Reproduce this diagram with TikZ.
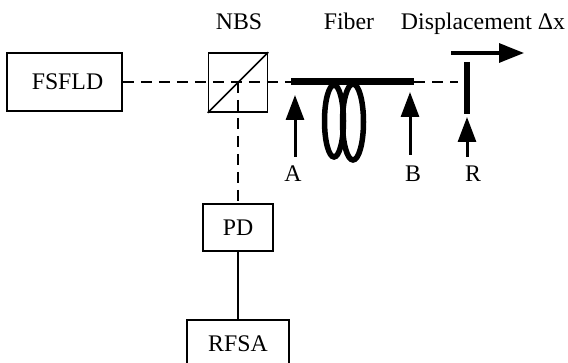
\documentclass[tikz,border=0pt]{standalone}
\usepackage{fontspec}
\setmainfont{Liberation Serif}
\usepackage{tikz}
\usetikzlibrary{arrows.meta}

\begin{document}
\begin{tikzpicture}[x=1pt, y=-1pt,
  every node/.style={font=\fontsize{23.8}{24}\selectfont, inner sep=0pt},
  unit/.style={draw, line width=1.6pt},
  tag/.style={anchor=base},
  beam/.style={line width=1.5pt, dash pattern=on 11pt off 7pt},
  fiber/.style={line width=7pt},
  coil/.style={line width=5.5pt},
  probe/.style={line width=3pt, -{Triangle[length=25pt, width=18pt]}},
  move/.style={line width=3.2pt, -{Triangle[length=25pt, width=19pt]}}
]
  \useasboundingbox (0,0) rectangle (568,363);
  % boxes
  \node[unit, minimum width=115pt, minimum height=58pt] (fsfld) at (64.5,82) {\hspace{6pt}FSFLD};
  \node[unit, minimum width=59pt, minimum height=59pt] (nbs) at (238,82.5) {};
  \node[unit, minimum width=70pt, minimum height=47pt] (pd) at (238,227.5) {PD};
  \node[unit, minimum width=102pt, minimum height=48pt] (rfsa) at (238,344) {RFSA};
  % labels
  \node[tag] (nbslabel) at (239,30) {NBS};
  \node[tag] (fiberlabel) at (349,30) {Fiber};
  \node[tag] (displabel) at (483,30) {Displacement Δx};
  \node[tag] (alabel) at (293,182) {A};
  \node[tag] (blabel) at (413,182) {B};
  \node[tag] (rlabel) at (473,182) {R};
  % points on the fiber and mirror
  \coordinate (fiberA) at (291,82);
  \coordinate (fiberB) at (414,82);
  \coordinate (split) at (238,82);
  \coordinate (mirrortop) at (467,62);
  \coordinate (mirrorbot) at (467,114);
  \coordinate (beamend) at (458,82);
  % beam paths
  \draw[beam] (fsfld.east |- split) -- (fiberA);
  \draw[beam] (fiberB) -- (beamend);
  \draw[beam] (split) -- (pd.north);
  \draw[line width=1.5pt] (pd.south) -- (rfsa.north);
  \draw[line width=1.5pt] (nbs.south west) -- (nbs.north east);
  % fiber and coil
  \draw[coil] (334,121) ellipse (9.5 and 36);
  \draw[coil] (353,122) ellipse (10.5 and 38);
  \draw[fiber] (fiberA) -- (fiberB);
  % mirror and arrows
  \draw[line width=5.5pt] (mirrortop) -- (mirrorbot);
  \draw[move] (451,53) -- (524,53);
  \draw[probe] (295,157) -- (295,95);
  \draw[probe] (410,155) -- (410,92);
  \draw[probe] (467,157) -- (467,117);
\end{tikzpicture}
\end{document}
